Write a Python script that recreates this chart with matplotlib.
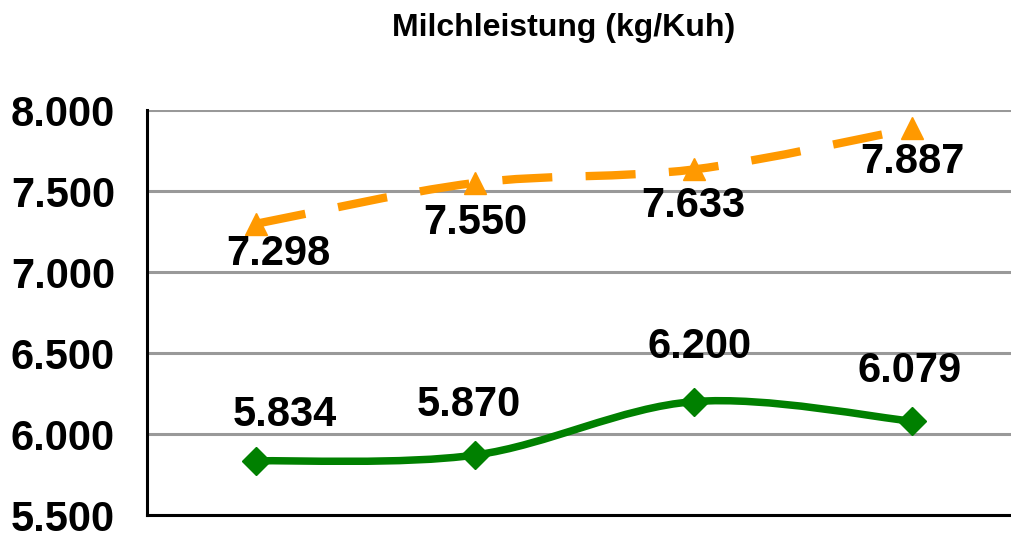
import matplotlib.pyplot as plt
import numpy as np
from matplotlib.path import Path
from matplotlib.patches import PathPatch
from matplotlib.ticker import FuncFormatter

plt.rcParams['font.family'] = ['Liberation Sans', 'DejaVu Sans']
plt.rcParams['font.weight'] = 'bold'

title = "Milchleistung (kg/Kuh)"
categories = [0, 1, 2, 3]
orange_vals = [7298, 7550, 7633, 7887]
green_vals = [5834, 5870, 6200, 6079]
yticks = [5500, 6000, 6500, 7000, 7500, 8000]

ORANGE = "#FF9900"
GREEN = "#008000"


def smooth_path(xs, ys):
    # Excel-like smoothed line: Catmull-Rom converted to cubic Bezier segments
    pts = np.column_stack([xs, ys]).astype(float)
    n = len(pts)
    verts = [pts[0]]
    codes = [Path.MOVETO]
    for i in range(n - 1):
        p0 = pts[i - 1] if i > 0 else pts[i]
        p1 = pts[i]
        p2 = pts[i + 1]
        p3 = pts[i + 2] if i + 2 < n else pts[i + 1]
        c1 = p1 + (p2 - p0) / 6
        c2 = p2 - (p3 - p1) / 6
        verts += [c1, c2, p2]
        codes += [Path.CURVE4] * 3
    return Path(verts, codes)


def fmt(v, pos=None):
    return f"{v:,.0f}".replace(",", ".")


fig = plt.figure(figsize=(10.12, 5.36), dpi=100)
ax = fig.add_axes([147 / 1012, 21 / 536, 865 / 1012, 405 / 536])

ax.set_xlim(-0.5, 3.455)
ax.set_ylim(5500, 8000)
ax.set_yticks(yticks)
ax.yaxis.set_major_formatter(FuncFormatter(fmt))
ax.tick_params(axis='y', length=0, pad=23, labelsize=30)
ax.tick_params(axis='x', length=0, labelbottom=False)
ax.set_xticks([])
ax.grid(axis='y', color='#999999', linewidth=2.2)
ax.set_axisbelow(True)
for s in ['top', 'right']:
    ax.spines[s].set_visible(False)
for s in ['left', 'bottom']:
    ax.spines[s].set_color('black')
    ax.spines[s].set_linewidth(2.2)

# orange dashed smoothed line
po = PathPatch(smooth_path(categories, orange_vals), fill=False, edgecolor=ORANGE,
               linewidth=6, linestyle=(0, (6, 4)), capstyle='butt', zorder=3)
ax.add_patch(po)
ax.plot(categories, orange_vals, linestyle='none', marker='^', markersize=16,
        color=ORANGE, zorder=4)

# green solid smoothed line
pg = PathPatch(smooth_path(categories, green_vals), fill=False, edgecolor=GREEN,
               linewidth=5.4, capstyle='round', joinstyle='round', zorder=3)
ax.add_patch(pg)
ax.plot(categories, green_vals, linestyle='none', marker='D', markersize=14.5,
        color=GREEN, zorder=4)

# data labels (offsets in pixels)
orange_off = [(22, -30), (0, -40), (0, -37), (0, -34)]
green_off = [(28, 46), (-6, 50), (6, 55), (-3, 50)]
for x, v, (dx, dy) in zip(categories, orange_vals, orange_off):
    ax.annotate(fmt(v), (x, v), xytext=(dx * 0.72, dy * 0.72), textcoords='offset points',
                ha='center', va='center', fontsize=30, fontweight='bold', zorder=5)
for x, v, (dx, dy) in zip(categories, green_vals, green_off):
    ax.annotate(fmt(v), (x, v), xytext=(dx * 0.72, dy * 0.72), textcoords='offset points',
                ha='center', va='center', fontsize=30, fontweight='bold', zorder=5)

fig.text(564 / 1012, 1 - 28 / 536, title, ha='center', va='center',
         fontsize=23, fontweight='bold')

fig.savefig("out.png", dpi=100)
